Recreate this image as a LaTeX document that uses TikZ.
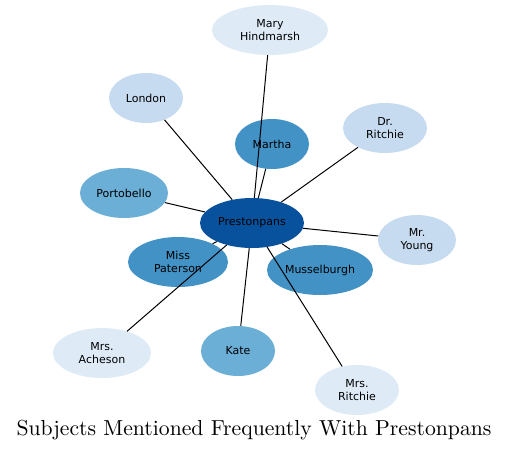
\documentclass[tikz,border=0pt]{standalone}
\usepackage{fontspec}
\newfontfamily\labelfont{DejaVu Sans}
\newfontfamily\titlefont{lmroman10-regular.otf}
\usetikzlibrary{shapes.geometric}
\definecolor{pale}{HTML}{DEEBF7}
\definecolor{light}{HTML}{C6DBEF}
\definecolor{mid}{HTML}{6BAED6}
\definecolor{deep}{HTML}{4292C6}
\definecolor{dark}{HTML}{08519C}
\begin{document}
\begin{tikzpicture}
[x=1pt,y=-1pt,every node/.style={ellipse,draw=none,inner sep=0pt,minimum height=50pt,align=center,
  font=\labelfont\fontsize{11}{12.5}\selectfont}]
\useasboundingbox (0,0) rectangle (509,451);
\node[fill=pale,minimum width=116pt](mary) at (270,30) {Mary\\Hindmarsh};
\node[fill=light,minimum width=74pt](london) at (146,98) {London};
\node[fill=deep,minimum width=74pt](martha) at (272,144) {Martha};
\node[fill=light,minimum width=84pt](drritchie) at (385,128) {Dr.\\Ritchie};
\node[fill=mid,minimum width=88pt](portobello) at (124,193) {Portobello};
\node[fill=dark,minimum width=104pt](pp) at (252,223) {Prestonpans};
\node[fill=light,minimum width=78pt](young) at (417,240) {Mr.\\Young};
\node[fill=deep,minimum width=100pt](paterson) at (178,262) {Miss\\Paterson};
\node[fill=deep,minimum width=106pt](musselburgh) at (320,270) {Musselburgh};
\node[fill=pale,minimum width=98pt](acheson) at (102,353) {Mrs.\\Acheson};
\node[fill=mid,minimum width=74pt](kate) at (238,351) {Kate};
\node[fill=pale,minimum width=84pt](mrsritchie) at (357,390) {Mrs.\\Ritchie};
\foreach \s in {mary,london,martha,drritchie,portobello,young,paterson,musselburgh,acheson,kate,mrsritchie}
{
  \draw[line width=1pt] (pp) -- (\s);
}
\node[rectangle,minimum height=0pt,font=\titlefont\fontsize{21.7}{24}\selectfont](title) at (254,430) {Subjects Mentioned Frequently With Prestonpans};
\end{tikzpicture}
\end{document}
